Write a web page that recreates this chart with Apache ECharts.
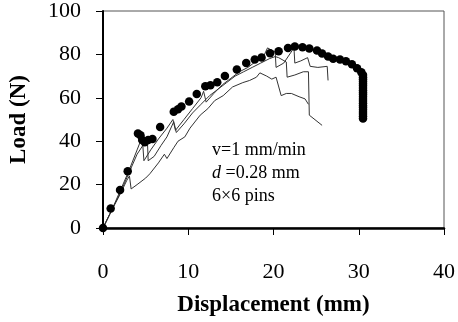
<!DOCTYPE html>
<html>
<head>
<meta charset="utf-8">
<script src="https://cdn.jsdelivr.net/npm/echarts@6/dist/echarts.min.js"></script>
<style>html,body{margin:0;padding:0;background:#fff;}#c{width:458px;height:322px;}</style>
</head>
<body>
<div id="c"></div>
<script>
var xTicks = [0, 10, 20, 30, 40];
var yTicks = [0, 20, 40, 60, 80, 100];

var dotsData = [[0,0],[0.9,9],[2,17.5],[2.9,26.2],[4.1,43.5],[4.4,42.7],[4.6,40.5],[4.9,39.5],[5.3,40.5],[5.8,41],
  [6.7,46.5],[8.3,53.6],[8.8,54.7],[9.2,56],[10.1,58.3],[11,61.7],[12,65.3],[12.6,65.8],[13.4,67.2],[14.3,70],
  [15.7,73],[16.8,76],[17.8,77.7],[18.6,78.6],[19.6,80.5],[20.6,81.4],[21.7,83],[22.5,83.6],[23.4,83.3],[24.2,82.7],
  [25.1,81.8],[25.7,80.4],[26.4,79],[27,78],[27.8,77.7],[28.5,76.8],[29.2,75.5],[29.8,73.6],[30.3,71.8],
  [30.5,70.5],[30.5,69.5],[30.5,68.5],[30.5,67.5],[30.5,66.5],[30.5,65.5],[30.5,64.5],[30.5,63.5],[30.5,62.5],
  [30.5,61.5],[30.5,60.5],[30.5,59.5],[30.5,58.5],[30.5,57.5],[30.5,56.5],[30.5,55.5],[30.5,54.5],[30.5,53.5],
  [30.5,52.5],[30.5,51.5],[30.5,50.5]];

var curve1 = [[0,0],[1,8],[2,17],[3,26],[4,36],[4.6,42],[4.8,31],[5.6,36],[6.5,41],[7.5,46],[8.2,50],[8.5,45],
  [9.5,50],[10.5,55],[11.5,60],[11.8,63],[12.1,58],[13,62],[14,66],[15,69],[16,72],[17,74],[18,77],[18.7,78],
  [19.3,83],[20.2,81],[20.3,74],[21.2,76],[22.4,83],[22.5,76],[23.2,77],[24,78.5],[24.3,74.5],[25.2,74],
  [26.3,74.5],[26.4,68]];

var curve2 = [[0,0],[1,8],[2,16],[3,25],[4,34],[5,40],[5.2,41],[5.3,31],[6,33],[6.8,38],[7.5,42],[8.3,49],
  [8.6,44],[9.5,48],[10.5,53],[11.5,57],[12.5,61],[13.5,64],[14.5,67],[15.5,70],[16.5,72],[17.5,74],[18.5,76],
  [19.5,78],[20.2,79],[20.6,78.5],[21.5,76.5],[21.6,69.5],[22.5,70.5],[23.5,72],[24.1,72],[24.2,52],[25.7,47.3]];

var curve3 = [[0,0],[1,8],[2,15.5],[2.8,22],[3.1,24],[3.3,18],[4,20],[5,23],[5.5,25],[6.5,30],[7.2,34],[7.5,32],
  [8.3,37],[8.8,40],[9.6,42],[10.2,46],[11.4,52],[12.3,55],[13.1,58.7],[14.1,61],[15.2,65],[16.4,67],[17.2,68],
  [18,69.5],[18.4,71.5],[19.2,70],[19.8,68.6],[20.3,69.5],[20.9,61],[21.5,62],[22.1,62],[23,60.5],[23.7,59.5],
  [24.1,57]];

var annotationLines = ['v=1 mm/min', '{i|d} =0.28 mm', '6\u00D76 pins'];

var chart = echarts.init(document.getElementById('c'), null, {renderer: 'canvas'});
var serif = '"Liberation Serif", "Times New Roman", serif';
var lineStyle = {color: '#333', width: 1};
function lineSeries(d) {
  return {type: 'line', data: d, showSymbol: false, symbol: 'none', lineStyle: lineStyle, z: 2, silent: true};
}
chart.setOption({
  animation: false,
  grid: {left: 102, right: 12, top: 11, bottom: 91, show: true, borderColor: '#555', borderWidth: 1, backgroundColor: 'transparent'},
  xAxis: {
    type: 'value', min: xTicks[0], max: xTicks[xTicks.length - 1], interval: 10,
    name: 'Displacement (mm)', nameLocation: 'middle', nameGap: 66,
    nameTextStyle: {fontFamily: serif, fontWeight: 'bold', fontSize: 23, color: '#000'},
    axisLine: {lineStyle: {color: '#000', width: 2.5}},
    axisTick: {inside: false, length: 7, lineStyle: {color: '#000', width: 1}},
    axisLabel: {fontFamily: serif, fontSize: 22, color: '#000', margin: 33},
    splitLine: {show: false}
  },
  yAxis: {
    type: 'value', min: yTicks[0], max: yTicks[yTicks.length - 1], interval: 20,
    name: 'Load (N)', nameLocation: 'middle', nameGap: 72,
    nameTextStyle: {fontFamily: serif, fontWeight: 'bold', fontSize: 23, color: '#000'},
    axisLine: {lineStyle: {color: '#000', width: 2}},
    axisTick: {inside: false, length: 7, lineStyle: {color: '#000', width: 1}},
    axisLabel: {fontFamily: serif, fontSize: 22, color: '#000', margin: 22},
    splitLine: {show: false}
  },
  graphic: [{
    type: 'text', left: 212, top: 139, silent: true,
    style: {
      text: annotationLines.join('\n'),
      font: '18px ' + serif, fill: '#000', lineHeight: 23,
      rich: {i: {fontStyle: 'italic', fontFamily: serif, fontSize: 18, lineHeight: 23}}
    }
  }],
  series: [
    lineSeries(curve3), lineSeries(curve2), lineSeries(curve1),
    {type: 'scatter', data: dotsData, symbol: 'circle', symbolSize: 8.5,
     itemStyle: {color: '#000', opacity: 1, borderWidth: 0}, z: 3, silent: true}
  ]
});
</script>
</body>
</html>
